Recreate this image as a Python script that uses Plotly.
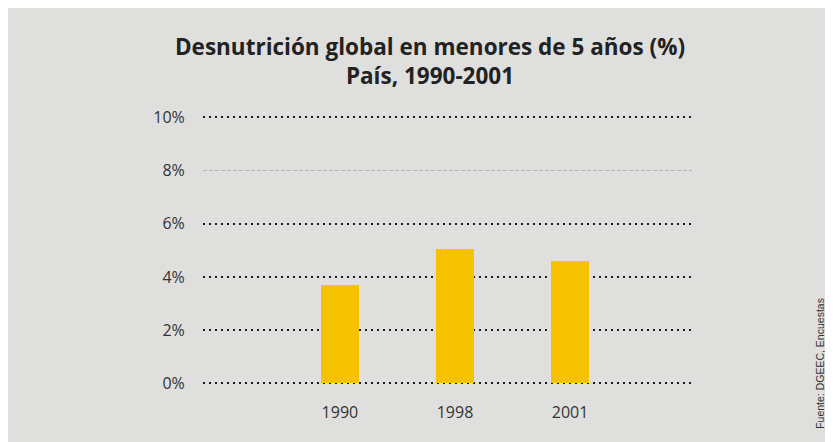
import plotly.graph_objects as go

categories = ["1990", "1998", "2001"]
values = [3.7, 5.05, 4.6]
y_ticks_dark = [0, 2, 4, 6, 10]
y_tick_labels_dark = ["0%", "2%", "4%", "6%", "10%"]
y_ticks_light = [8]
y_tick_labels_light = ["8%"]

title_text = "<b>Desnutrición global en menores de 5 años (%)<br>País, 1990-2001</b>"
source_text = "Fuente: DGEEC, Encuestas"

Y_RANGE = [-0.1, 10.05]

# page offset of 8px is compensated
OFF = 8
PX_PER_UNIT = 26.6
W, H = 833 - OFF, 442 - OFF
L = 203 - OFF
T = 117.5 - (Y_RANGE[1] - 10) * PX_PER_UNIT - OFF
R = W - (692 - OFF)
B = H - (383.5 - Y_RANGE[0] * PX_PER_UNIT - OFF)

fig = go.Figure()
fig.add_trace(go.Bar(
    x=categories, y=values,
    marker=dict(color="#f7c300", line=dict(width=0)),
    width=0.33,
))
fig.add_trace(go.Scatter(x=[], y=[], yaxis="y2", showlegend=False, hoverinfo="skip"))

common_y = dict(
    range=Y_RANGE,
    showgrid=True,
    zeroline=False,
    showline=False,
    ticks="outside", ticklen=14, tickcolor="rgba(0,0,0,0)",
    tickfont=dict(size=16, color="#333333"),
)

fig.update_layout(
    width=W, height=H,
    margin=dict(l=L, r=R, t=T, b=B, pad=0),
    paper_bgcolor="#dfdfde",
    plot_bgcolor="#dfdfde",
    showlegend=False,
    font=dict(family="Open Sans, Noto Sans, sans-serif", color="#333333"),
    title=dict(
        text=title_text,
        x=(430 - OFF) / W, xanchor="center",
        y=1 - 47 / H, yanchor="top",
        font=dict(size=22.5, color="#222222", family="Open Sans, sans-serif"),
    ),
    xaxis=dict(
        type="category",
        range=[-1.19, 3.06],
        showgrid=False,
        showline=False,
        zeroline=False,
        ticks="outside", ticklen=12, tickcolor="rgba(0,0,0,0)",
        tickfont=dict(size=16, color="#333333"),
    ),
    yaxis=dict(
        tickvals=y_ticks_dark,
        ticktext=y_tick_labels_dark,
        gridcolor="#1a1a1a",
        gridwidth=2,
        griddash="2px,4px",
        **common_y,
    ),
    yaxis2=dict(
        overlaying="y",
        side="left",
        anchor="x",
        tickvals=y_ticks_light,
        ticktext=y_tick_labels_light,
        gridcolor="#b4b4b4",
        gridwidth=1,
        griddash="4px,2px",
        **common_y,
    ),
    bargap=0,
)

fig.add_annotation(
    text=source_text,
    xref="paper", yref="paper",
    x=(820 - OFF - L) / (W - L - R), y=(H - B - (364 - OFF)) / (H - T - B),
    textangle=-90, showarrow=False,
    xanchor="center", yanchor="middle",
    font=dict(size=10.5, color="#333333", family="Liberation Sans, Arial, sans-serif"),
)

fig.write_html("out.html")
